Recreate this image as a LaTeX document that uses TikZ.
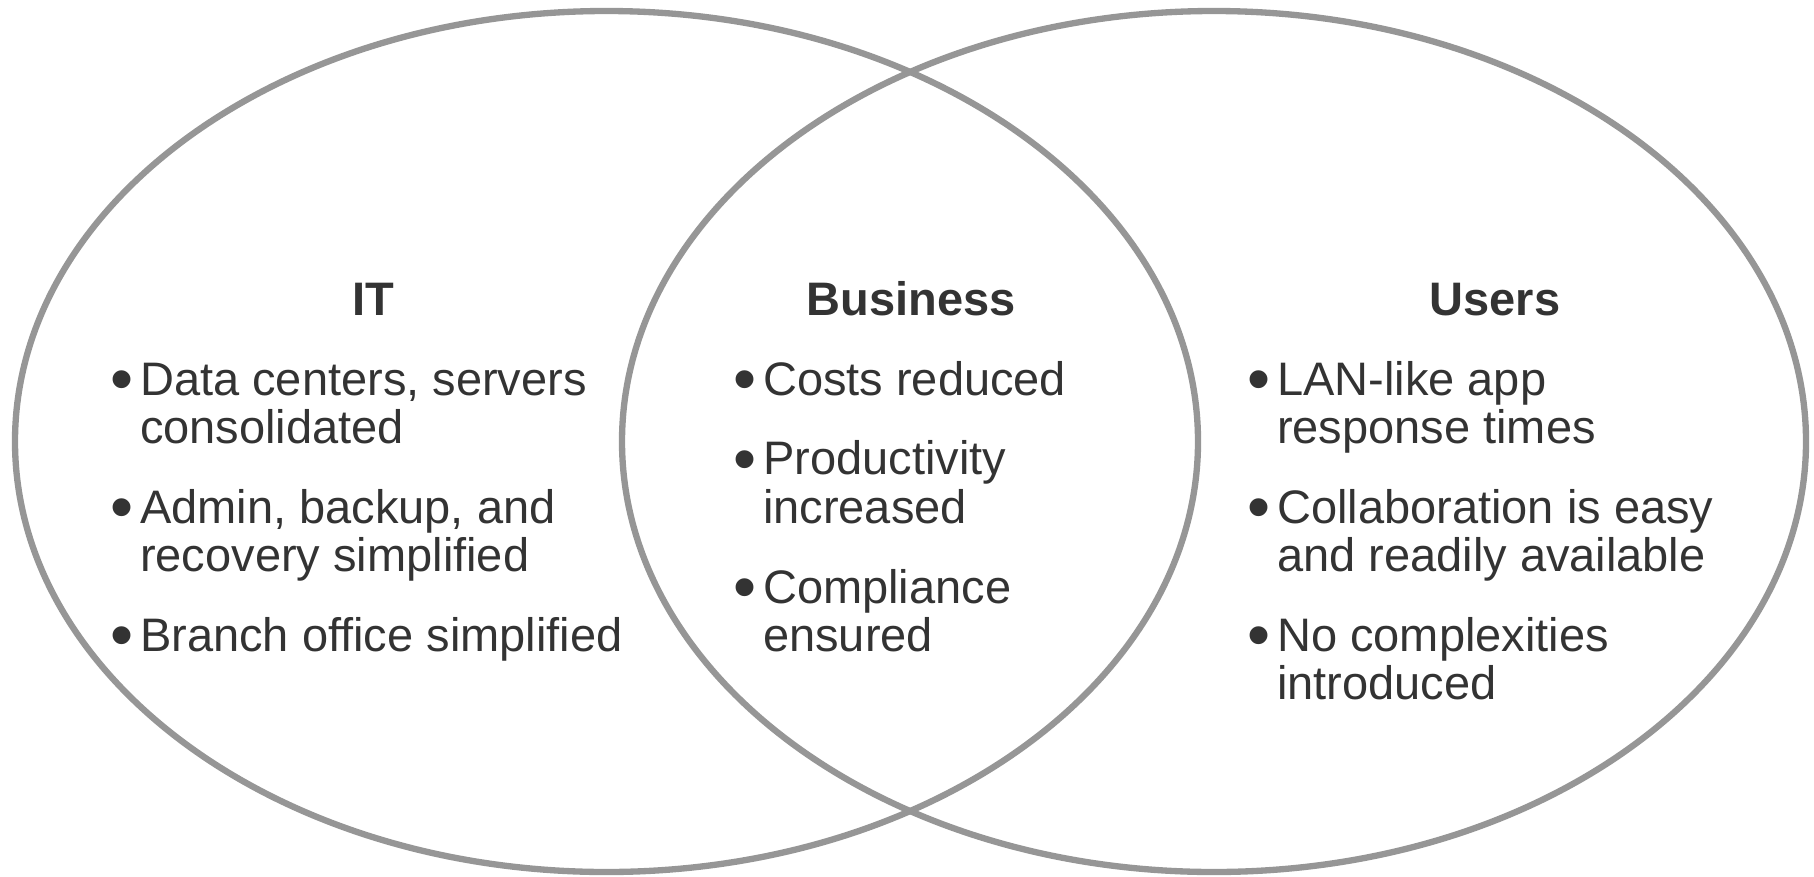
\documentclass[tikz,border=0pt]{standalone}
\usepackage{fontspec}
\setmainfont{Liberation Sans}
\usetikzlibrary{positioning}
\definecolor{ringgray}{HTML}{969696}
\definecolor{txtgray}{HTML}{333333}
\newcommand{\bul}[1]{\makebox[0.57em][l]{\hspace{-0.07em}\raisebox{-0.13em}{\scalebox{1.4}{\textbullet}}}\begin{tabular}[t]{@{}l@{}}#1\end{tabular}}

\tikzset{
  ring/.style={draw=ringgray, line width=3.6pt},
  heading/.style={font=\fontsize{26.75}{27}\selectfont\bfseries, text=txtgray, inner sep=0pt, anchor=base},
  point/.style={font=\fontsize{26.75}{27}\selectfont, text=txtgray, inner sep=0pt, align=left},
}

\begin{document}
\begin{tikzpicture}[x=0.02cm, y=-0.02cm]
      \useasboundingbox (0,0) rectangle (1814,876);
      % the two circles
      \draw[ring] (606.5,441.5) ellipse [x radius=591.5, y radius=430.5];
      \draw[ring] (1214,441.5) ellipse [x radius=592, y radius=430.5];
      % IT
      \node[heading] (ithead) at (373,315) {IT};
      \node[point, anchor=base west] (it1) at (113,395) {\bul{Data centers, servers\\consolidated}};
      \node[point, below=0.62cm of it1.south west, anchor=north west] (it2) {\bul{Admin, backup, and\\recovery simplified}};
      \node[point, below=0.62cm of it2.south west, anchor=north west] (it3) {\bul{Branch office simplified}};
      % Business
      \node[heading] (bizhead) at (911,315) {Business};
      \node[point, anchor=base west] (biz1) at (736,395) {\bul{Costs reduced}};
      \node[point, below=0.62cm of biz1.south west, anchor=north west] (biz2) {\bul{Productivity\\increased}};
      \node[point, below=0.62cm of biz2.south west, anchor=north west] (biz3) {\bul{Compliance\\ensured}};
      % Users
      \node[heading] (usrhead) at (1495,315) {Users};
      \node[point, anchor=base west] (usr1) at (1250,395) {\bul{LAN-like app\\response times}};
      \node[point, below=0.62cm of usr1.south west, anchor=north west] (usr2) {\bul{Collaboration is easy\\and readily available}};
      \node[point, below=0.62cm of usr2.south west, anchor=north west] (usr3) {\bul{No complexities\\introduced}};
    \end{tikzpicture}
\end{document}
